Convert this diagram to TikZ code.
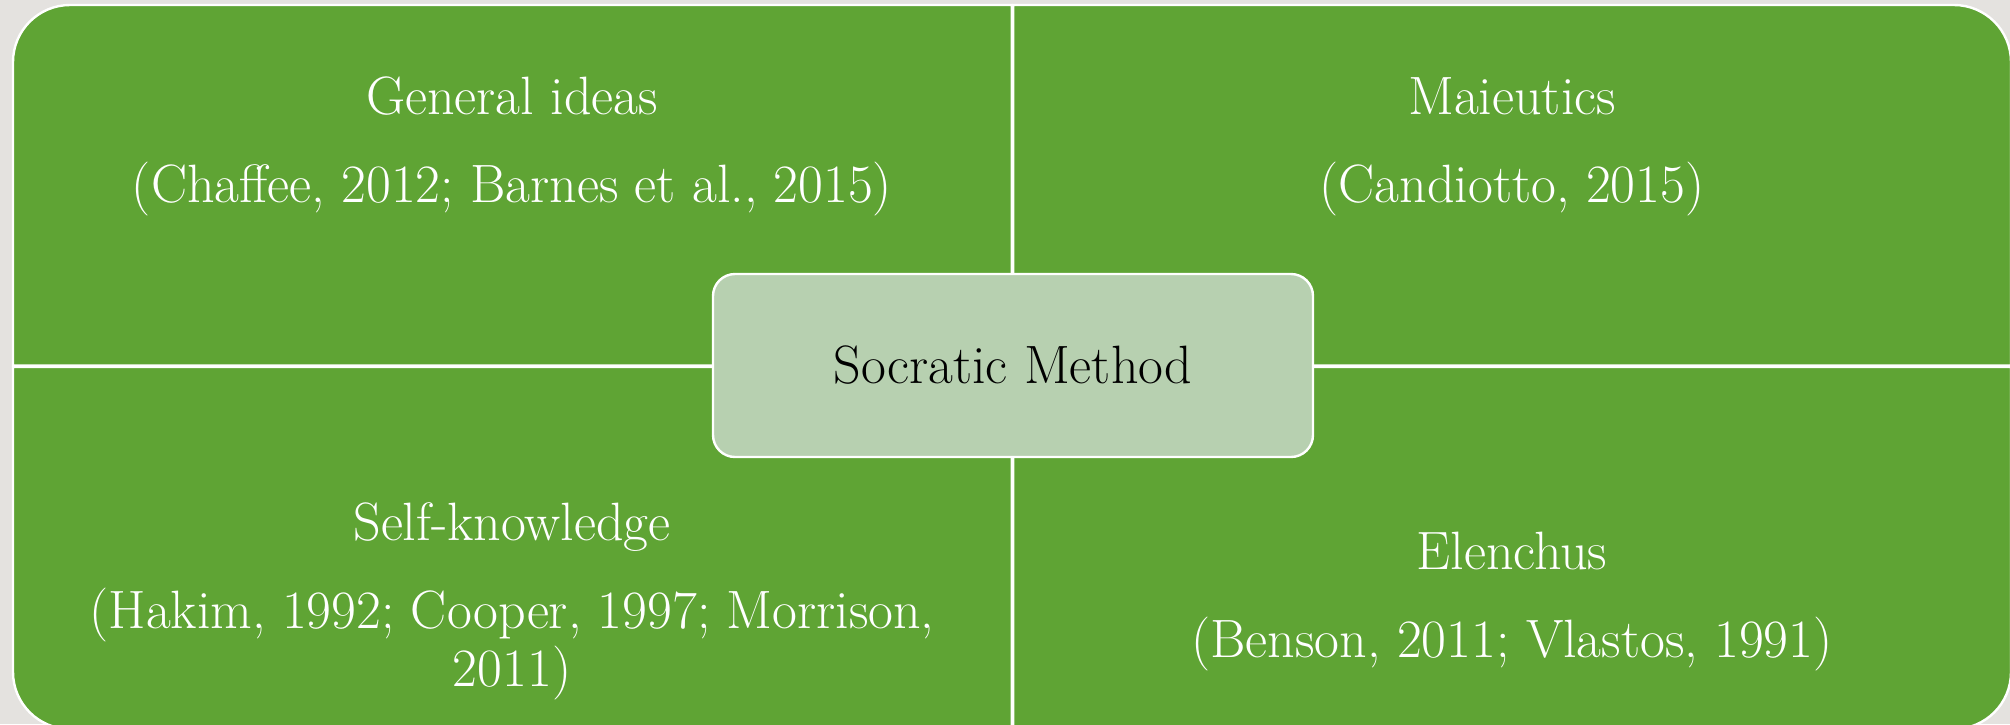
\documentclass[tikz,border=0pt]{standalone}
\usepackage{fontspec}
\definecolor{bggrey}{RGB}{228,226,223}
\definecolor{quadgreen}{RGB}{95,164,52}
\definecolor{centergreen}{RGB}{183,208,176}
\tikzset{
  quad/.style={fill=quadgreen, draw=white, line width=2.4pt},
  centerbox/.style={draw=white, line width=2.4pt, fill=centergreen, rounded corners=22pt,
    minimum width=600pt, minimum height=183pt, inner sep=0pt, text=black,
    font=\fontsize{54}{60}\selectfont},
  qtext/.style={text=white, anchor=base, inner sep=0pt, font=\fontsize{54}{60}\selectfont}
}
\begin{document}
\begin{tikzpicture}[x=1pt,y=-1pt]
\useasboundingbox (0,0) rectangle (2010,724);
\fill[bggrey] (0,0) rectangle (2010,724);
% quadrants
\draw[quad] (13,365.5) -- (13,62) arc[start angle=180,end angle=90,radius=57pt] -- (1011.8,5) -- (1011.8,365.5) -- cycle;
\draw[quad] (1013.2,365.5) -- (1013.2,5) -- (1954,5) arc[start angle=90,end angle=0,radius=57pt] -- (2011,365.5) -- cycle;
\draw[quad] (1013.2,367) -- (2011,367) -- (2011,672) arc[start angle=0,end angle=-90,radius=57pt] -- (1013.2,729) -- cycle;
\draw[quad] (1011.8,367) -- (1011.8,729) -- (70,729) arc[start angle=270,end angle=180,radius=57pt] -- (13,367) -- cycle;
% center
\node[centerbox] (center) at (1013,365.5) {Socratic Method};
% top-left
\node[qtext] (tl1) at (512,114.5) {General ideas};
\node[qtext] (tl2) at (512,202.5) {(Chaffee, 2012; Barnes et al., 2015)};
% top-right
\node[qtext] (tr1) at (1512,114.5) {Maieutics};
\node[qtext] (tr2) at (1512,202.5) {(Candiotto, 2015)};
% bottom-left
\node[qtext] (bl1) at (512,540) {Self-knowledge};
\node[qtext] (bl2) at (512,628) {(Hakim, 1992; Cooper, 1997; Morrison,};
\node[qtext] (bl3) at (512,686) {2011)};
% bottom-right
\node[qtext] (br1) at (1512,569) {Elenchus};
\node[qtext] (br2) at (1512,657) {(Benson, 2011; Vlastos, 1991)};
\end{tikzpicture}
\end{document}
